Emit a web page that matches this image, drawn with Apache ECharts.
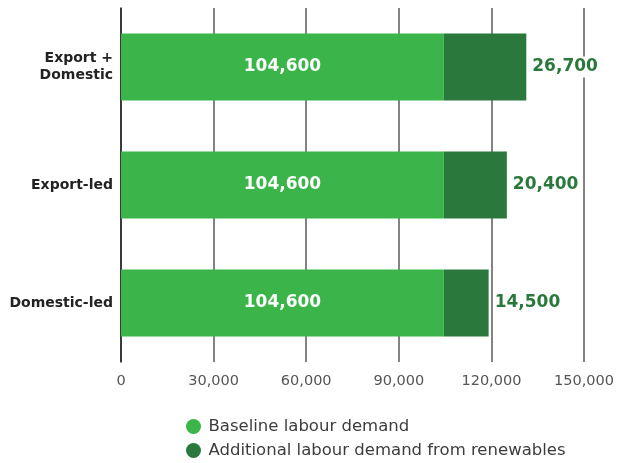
<!DOCTYPE html>
<html><head><meta charset="utf-8">
<script src="https://cdn.jsdelivr.net/npm/echarts@6/dist/echarts.min.js"></script>
<style>html,body{margin:0;padding:0;background:#fff}#c{width:617px;height:463px}</style>
</head><body><div id="c"></div>
<script>
var categories = ['Export +\nDomestic', 'Export-led', 'Domestic-led'];
var baseline = [104600, 104600, 104600];
var additional = [26700, 20400, 14500];
var xTicks = [0, 30000, 60000, 90000, 120000, 150000];
var seriesNames = ['Baseline labour demand', 'Additional labour demand from renewables'];

var FONT = '"DejaVu Sans", "Noto Sans", sans-serif';
function fmt(v){ return v.toLocaleString('en-US'); }

var chart = echarts.init(document.getElementById('c'));
chart.setOption({
  animation: false,
  grid: { left: 121, right: 32, top: 8, bottom: 101, containLabel: false },
  legend: {
    orient: 'vertical', left: 186, top: 418, itemGap: 7, padding: 0, height: 45,
    icon: 'circle', itemWidth: 20, itemHeight: 15,
    textStyle: { fontFamily: FONT, fontSize: 16.5, color: '#3c3c3c', lineHeight: 17 },
    data: seriesNames
  },
  xAxis: {
    type: 'value', min: xTicks[0], max: xTicks[xTicks.length-1], interval: 30000,
    axisLine: { show: false }, axisTick: { show: false },
    splitLine: { show: true, lineStyle: { color: '#5a5a5a', width: 1.5 } },
    axisLabel: { margin: 12, fontFamily: FONT, fontSize: 14.5, color: '#555', formatter: function(v){ return fmt(v); } }
  },
  yAxis: {
    type: 'category', inverse: true, data: categories,
    axisLine: { show: true, lineStyle: { color: '#222', width: 1.5 } },
    axisTick: { show: false },
    axisLabel: { margin: 8, fontFamily: FONT, fontSize: 14, fontWeight: 'bold', color: '#222', lineHeight: 17, align: 'right', padding: [4, 0, 0, 0] }
  },
  series: [
    {
      name: seriesNames[0], type: 'bar', stack: 's', data: baseline, barWidth: 67,
      itemStyle: { color: '#3BB54A' },
      label: { show: true, position: 'inside', color: '#fff', fontFamily: FONT, fontSize: 17, fontWeight: 'bold', padding: [3, 0, 0, 0], formatter: function(p){ return fmt(p.value); } }
    },
    {
      name: seriesNames[1], type: 'bar', stack: 's', data: additional, barWidth: 67,
      itemStyle: { color: '#2A783C' },
      label: { show: true, position: 'right', distance: 5, color: '#2A783C', fontFamily: FONT, fontSize: 17, fontWeight: 'bold',
        backgroundColor: '#fff', padding: [3, 1, 1, 1],
        formatter: function(p){ return fmt(p.value); } }
    }
  ]
});
</script></body></html>
